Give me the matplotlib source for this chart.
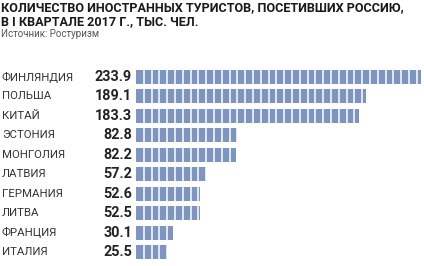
import numpy as np
import matplotlib.pyplot as plt
from matplotlib.transforms import blended_transform_factory

# data
countries = ['ФИНЛЯНДИЯ', 'ПОЛЬША', 'КИТАЙ', 'ЭСТОНИЯ', 'МОНГОЛИЯ',
             'ЛАТВИЯ', 'ГЕРМАНИЯ', 'ЛИТВА', 'ФРАНЦИЯ', 'ИТАЛИЯ']
values = [233.9, 189.1, 183.3, 82.8, 82.2, 57.2, 52.6, 52.5, 30.1, 25.5]

title = 'КОЛИЧЕСТВО ИНОСТРАННЫХ ТУРИСТОВ, ПОСЕТИВШИХ РОССИЮ,\nВ I КВАРТАЛЕ 2017 Г., ТЫС. ЧЕЛ.'
source = 'Источник: Ростуризм'

plt.rcParams['font.family'] = ['Roboto', 'DejaVu Sans']

W, H = 424, 266
fig = plt.figure(figsize=(W / 100, H / 100), dpi=100)
fig.patch.set_facecolor('white')

# axes placed in pixel terms
x0, x1 = 136, 421
top, bottom = 67.3, 261.7
ax = fig.add_axes([x0 / W, 1 - bottom / H, (x1 - x0) / W, (bottom - top) / H])

y = np.arange(len(countries))
ax.barh(y, values, height=0.72, color='#7d95bf', zorder=1)

# white separators that break the bars into blocks
step = 6.4
for xv in np.arange(step, max(values) + step, step):
    ax.axvline(xv, color='white', lw=1.1, zorder=2)

ax.set_xlim(0, max(values))
ax.set_ylim(len(countries) - 0.5, -0.5)
ax.axis('off')

tr = blended_transform_factory(fig.transFigure, ax.transData)
for i, (c, v) in enumerate(zip(countries, values)):
    ax.text(2 / W, i, c, transform=tr, ha='left', va='center',
            fontsize=8.2, color='#333333')
    ax.text(132 / W, i, f'{v:.1f}', transform=tr, ha='right', va='center',
            fontsize=10.4, fontweight='bold', color='#222222')

fig.text(1 / W, 1 - 1 / H, title, ha='left', va='top', fontsize=9.1,
         fontweight='bold', color='#1a1a1a', linespacing=1.15)
fig.text(1 / W, 1 - 29 / H, source, ha='left', va='top', fontsize=7,
         color='#555555')

fig.savefig('out.png', dpi=100)
